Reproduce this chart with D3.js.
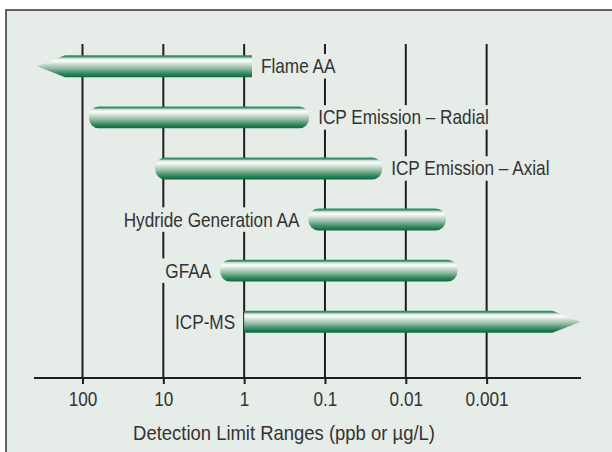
<!DOCTYPE html>
<html><head><meta charset="utf-8">
<script src="https://cdn.jsdelivr.net/npm/d3@7/dist/d3.min.js"></script>
<style>body{margin:0;background:#fff}svg{display:block}</style>
</head><body>
<svg id="c" width="612" height="452"></svg>
<script>
// ---- data ----
const techniques = ["Flame AA", "ICP Emission \u2013 Radial", "ICP Emission \u2013 Axial", "Hydride Generation AA", "GFAA", "ICP-MS"];
const upperLimit = [364, 83, 12.6, 0.16, 1.98, 1.0];        // ppb (left end)
const lowerLimit = [0.80, 0.157, 0.0196, 0.0032, 0.0023, 0.000069]; // ppb (right end)
const leftEnd  = ["arrow", "round", "round", "round", "round", "flat"];
const rightEnd = ["flat", "round", "round", "round", "round", "arrow"];
const labelSide = ["right", "right", "right", "left", "left", "left"];
const tickValues = [100, 10, 1, 0.1, 0.01, 0.001];
const tickLabels = ["100", "10", "1", "0.1", "0.01", "0.001"];
const axisTitle = "Detection Limit Ranges (ppb or \u00b5g/L)";

const svg = d3.select("#c");
const bg = "#e6ece8";
const font = "'Liberation Sans',Arial,sans-serif";
const sx = 0.86, fs = 20;

// frame
svg.append("rect").attr("x", 6).attr("y", 10).attr("width", 620).attr("height", 460)
  .attr("fill", bg).attr("stroke", "#333").attr("stroke-width", 1.5);

const x = d3.scaleLog().domain([398, 6.8e-5]).range([34, 581]);
const y = d3.scaleBand().domain(techniques).range([40, 348]).paddingInner(0.57).paddingOuter(0.3);

// gradient
const defs = svg.append("defs");
const g = defs.append("linearGradient").attr("id", "bar").attr("x1", 0).attr("y1", 0).attr("x2", 0).attr("y2", 1);
[[0, "#2f8a5e"], [0.07, "#3d9068"], [0.14, "#cfe3d6"], [0.24, "#ffffff"], [0.4, "#cfded4"], [0.6, "#8fb9a1"], [0.8, "#3f8d66"], [1, "#006b3f"]]
  .forEach(([o, c]) => g.append("stop").attr("offset", o).attr("stop-color", c));

// gridlines
const axisY = 378;
svg.append("g").selectAll("line").data(tickValues).join("line")
  .attr("x1", d => x(d)).attr("x2", d => x(d)).attr("y1", 44).attr("y2", axisY)
  .attr("stroke", "#1e1e1e").attr("stroke-width", 2);

// axis
const axis = d3.axisBottom(x).tickValues(tickValues).tickFormat((d, i) => tickLabels[i]).tickSize(6).tickPadding(8);
const ag = svg.append("g").attr("transform", `translate(0,${axisY})`).call(axis);
ag.select(".domain").remove();
ag.insert("line", ":first-child").attr("x1", 34).attr("x2", 581).attr("stroke", "#1e1e1e").attr("stroke-width", 2.2);
ag.selectAll(".tick line").attr("stroke", "#1e1e1e").attr("stroke-width", 2);
ag.selectAll(".tick text").attr("font-family", font).attr("font-size", fs).attr("fill", "#333")
  .attr("transform", `scale(${sx},1)`);

svg.append("text").attr("transform", `translate(284,440) scale(0.9,1)`).attr("text-anchor", "middle")
  .attr("font-family", font).attr("font-size", 20.5).attr("fill", "#333").text(axisTitle);

// labels with background
const h = y.bandwidth();
const labelLayer = svg.append("g");
techniques.forEach((t, i) => {
  const cy = y(t) + h / 2;
  const right = labelSide[i] === "right";
  const xp = right ? x(lowerLimit[i]) + 9 : x(upperLimit[i]) - 9;
  const grp = labelLayer.append("g").attr("transform", `translate(${xp},${cy + 7}) scale(${sx},1)`);
  const txt = grp.append("text").attr("x", 0).attr("y", 0)
    .attr("text-anchor", right ? "start" : "end")
    .attr("font-family", font).attr("font-size", fs).attr("fill", "#333").text(t);
  const bb = txt.node().getBBox();
  grp.insert("rect", () => txt.node()).attr("x", bb.x - 4).attr("y", bb.y - 1).attr("width", bb.width + 8).attr("height", bb.height + 2).attr("fill", bg);
});

// bars
function barPath(x0, x1, y0, hh, le, re) {
  const r = 10, a = 28, ym = y0 + hh / 2, y1 = y0 + hh;
  const p = d3.path();
  if (le === "round") { p.moveTo(x0 + r, y0); }
  else if (le === "arrow") { p.moveTo(x0 + a, y0); }
  else p.moveTo(x0, y0);
  if (re === "round") { p.lineTo(x1 - r, y0); p.arcTo(x1, y0, x1, y0 + r, r); p.lineTo(x1, y1 - r); p.arcTo(x1, y1, x1 - r, y1, r); }
  else if (re === "arrow") { p.lineTo(x1 - a, y0); p.lineTo(x1, ym); p.lineTo(x1 - a, y1); }
  else { p.lineTo(x1, y0); p.lineTo(x1, y1); }
  if (le === "round") { p.lineTo(x0 + r, y1); p.arcTo(x0, y1, x0, y1 - r, r); p.lineTo(x0, y0 + r); p.arcTo(x0, y0, x0 + r, y0, r); }
  else if (le === "arrow") { p.lineTo(x0 + a, y1); p.lineTo(x0, ym); }
  else { p.lineTo(x0, y1); }
  p.closePath();
  return p.toString();
}
svg.append("g").selectAll("path").data(techniques).join("path")
  .attr("d", (t, i) => barPath(x(upperLimit[i]), x(lowerLimit[i]), y(t), h, leftEnd[i], rightEnd[i]))
  .attr("fill", "url(#bar)");
</script>
</body></html>
